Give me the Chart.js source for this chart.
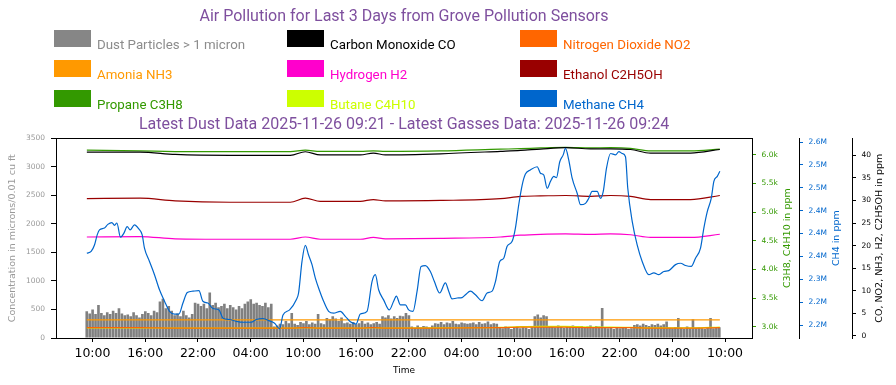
<!DOCTYPE html>
<html>
<head>
<meta charset="utf-8">
<script src="https://cdn.jsdelivr.net/npm/chart.js@4.4.1/dist/chart.umd.min.js"></script>
<style>
  body { margin: 0; background: #fff; }
  #wrap { position: relative; width: 896px; height: 385px; }
  #wrap canvas { position: absolute; left: 0; top: 0; }
  .lg-box { position: absolute; width: 37px; height: 17px; }
  .lg-text { position: absolute; font: 13.3px Roboto, sans-serif; line-height: 13px; white-space: nowrap; }
</style>
</head>
<body>
<div id="wrap">
  <canvas id="chart" width="896" height="385"></canvas>
  <div id="legend"></div>
</div>
<script>
// time is in hours since 2025-11-23 00:00
const xTickHours = [10, 16, 22, 28, 34, 40, 46, 52, 58, 64, 70, 76, 82];
const xTickLabels = ['10:00', '16:00', '22:00', '04:00', '10:00', '16:00', '22:00', '04:00', '10:00', '16:00', '22:00', '04:00', '10:00'];

const gasTicks = [3000, 3500, 4000, 4500, 5000, 5500, 6000];
const gasTickLabels = ['3.0k', '3.5k', '4.0k', '4.5k', '5.0k', '5.5k', '6.0k'];
const ch4Ticks = [2150, 2200, 2250, 2300, 2350, 2400, 2450, 2500, 2550]; // thousand ppm
const ch4TickLabels = ['2.2M', '2.2M', '2.3M', '2.4M', '2.4M', '2.4M', '2.5M', '2.5M', '2.6M'];
const ppmTicks = [0, 5, 10, 15, 20, 25, 30, 35, 40];

// dust, one reading every 20 minutes from 09:21 on the 23rd
const dustStart = 9.35;
const dustStep = 1 / 3;
const dust = [
  470, 430, 500, 420, 580, 440, 400, 450, 420, 480, 440, 520, 430, 400,
  410, 380, 450, 400, 360, 420, 470, 440, 400, 480, 450, 640, 690,
  520, 560, 480, 400, 430, 380, 480, 400, 360, 420, 620, 600,
  560, 600, 520, 800, 580, 620, 540, 560, 600, 520, 580,
  540, 500, 560, 520, 600, 640, 680, 600, 620, 580, 560, 620, 540, 600, 200, 220,
  250, 240, 300, 260, 440, 250, 230, 280, 260, 300, 240, 270, 250, 420, 260, 240,
  350, 330, 380, 340, 300, 360,
  260, 270, 250, 280, 240, 260, 300, 250, 270, 240, 260, 280, 250,
  380, 360, 400, 340, 380, 350, 390, 380, 440, 400,
  200, 180, 220, 190, 210, 200, 180, 220,
  260, 250, 280, 240, 270, 260, 300, 250, 240, 270, 260, 250,
  260, 270, 240, 280, 250, 260, 290, 240, 260, 250,
  180, 170, 200, 190, 160, 180, 200, 170, 190, 180, 160, 190,
  380, 410, 360, 400, 380,
  200, 210, 190, 220, 200, 180, 210, 200, 220, 190, 200, 210, 180, 200, 220, 190, 210, 200,
  527,
  180, 170, 190, 160, 180, 170, 190, 180, 160, 170,
  230, 240, 220, 250, 230, 210, 240, 230, 250, 220, 240, 290,
  180, 170, 190, 350, 180, 160, 200, 170, 330, 180, 190, 170, 160, 180, 350, 170, 180, 190
];

const gasTimes = [9.36, 15.43, 19.42, 25.68, 32.52, 34.23, 35.93, 40.49, 41.97, 43.34, 49.60,
  56.44, 58.72, 61.00, 63.85, 66.70, 68.97, 71.25, 73.53, 78.08, 81.41];
const co =      [40.7, 40.7, 40.2, 40.0, 40.0, 40.8, 40.1, 40.1, 40.5, 40.1, 40.35,
  40.9, 41.1, 41.4, 41.7, 41.45, 41.45, 41.3, 40.5, 40.5, 41.3];
const no2 =     [1.8, 1.8, 1.7, 1.7, 1.7, 1.8, 1.7, 1.7, 1.8, 1.7, 1.7,
  1.8, 1.9, 1.9, 1.9, 1.8, 1.8, 1.8, 1.7, 1.7, 1.8];
const nh3 =     [3.5, 3.5, 3.5, 3.5, 3.5, 3.5, 3.5, 3.5, 3.5, 3.5, 3.5,
  3.5, 3.5, 3.5, 3.5, 3.5, 3.5, 3.5, 3.5, 3.5, 3.5];
const h2 =      [21.9, 22.0, 21.5, 21.4, 21.4, 21.9, 21.4, 21.4, 21.8, 21.5, 21.6,
  21.9, 22.3, 22.5, 22.6, 22.5, 22.6, 22.4, 21.8, 21.8, 22.5];
const ethanol = [30.4, 30.5, 29.9, 29.6, 29.6, 30.5, 29.8, 29.8, 30.2, 29.9, 30.0,
  30.4, 30.9, 31.0, 31.1, 30.9, 31.1, 30.9, 30.2, 30.2, 31.1];
const propane = [6078, 6066, 6055, 6052, 6052, 6078, 6058, 6058, 6068, 6058, 6066,
  6096, 6105, 6118, 6128, 6120, 6122, 6110, 6066, 6066, 6096];
const butane =  [2980, 2980, 2975, 2975, 2975, 2985, 2975, 2975, 2982, 2975, 2980,
  2990, 3000, 3005, 3005, 2995, 2995, 2990, 2980, 2980, 2995];

const ch4Times = [
  9.36, 9.85, 10.23, 10.54, 10.80, 11.37, 11.75, 12.21, 12.51, 12.78, 13.19, 13.58, 13.95, 14.29, 14.78,
  15.28, 15.66, 15.92, 16.49, 17.06, 17.63, 18.20, 18.77, 19.34, 19.84, 20.30, 20.79, 21.44, 22.12, 22.57,
  23.14, 23.71, 24.40, 24.85, 25.60, 26.37, 27.13, 28.08, 28.64, 29.41, 30.16, 30.73, 31.30, 31.69, 32.44,
  33.20, 33.46, 33.85, 34.23, 34.60, 34.99, 35.36, 35.85, 36.31, 36.88, 37.45, 38.21, 38.78, 39.35, 40.00,
  40.49, 41.25, 41.82, 42.20, 42.57, 43.14, 43.79, 44.28, 44.59, 45.05, 45.62, 45.99, 46.49, 46.95, 47.40,
  47.89, 48.46, 48.92, 49.52, 50.17, 50.55, 50.93, 51.50, 52.07, 52.45, 53.02, 53.59, 54.35, 54.92, 55.49,
  55.87, 56.36, 56.81, 57.20, 57.77, 58.14, 58.52, 58.91, 59.28, 59.85, 60.62, 60.99, 61.37, 61.76, 62.13,
  62.51, 62.81, 63.19, 63.58, 63.84, 64.21, 64.60, 65.17, 65.55, 66.12, 66.49, 66.88, 67.45, 67.83, 68.14,
  68.51, 68.97, 69.54, 69.92, 70.30, 70.67, 70.93, 71.44, 72.00, 72.57, 73.33, 73.90, 74.46, 75.03, 75.60,
  76.37, 76.94, 77.51, 78.15, 78.64, 79.21, 79.59, 79.98, 80.43, 80.73, 81.12, 81.41
];
// methane in thousand ppm
const ch4 = [
  2307, 2311, 2325, 2347, 2358, 2362, 2370, 2374, 2368, 2373, 2342, 2351, 2365, 2358, 2369,
  2360, 2347, 2318, 2289, 2260, 2227, 2202, 2180, 2174, 2174, 2198, 2221, 2224, 2225, 2202,
  2198, 2186, 2183, 2165, 2162, 2158, 2156, 2156, 2162, 2164, 2159, 2154, 2142, 2172, 2183,
  2205, 2220, 2289, 2324, 2303, 2282, 2253, 2225, 2202, 2180, 2176, 2180, 2169, 2157, 2152,
  2174, 2180, 2245, 2260, 2227, 2205, 2183, 2202, 2213, 2194, 2194, 2183, 2180, 2224, 2278,
  2280, 2267, 2245, 2220, 2242, 2224, 2207, 2209, 2210, 2216, 2224, 2216, 2203, 2220, 2224,
  2245, 2289, 2296, 2322, 2333, 2362, 2413, 2456, 2480, 2489, 2496, 2482, 2478, 2449, 2464,
  2475, 2472, 2507, 2522, 2536, 2511, 2471, 2438, 2413, 2416, 2427, 2442, 2442, 2427, 2442,
  2493, 2525, 2522, 2529, 2525, 2518, 2449, 2376, 2325, 2289, 2260, 2264, 2260, 2267, 2269,
  2282, 2285, 2280, 2278, 2296, 2318, 2362, 2398, 2427, 2464, 2475, 2486
];

const zip = (xs, ys) => xs.map((x, i) => ({ x: x, y: ys[i] }));
const dustPoints = dust.map((v, i) => ({ x: dustStart + i * dustStep, y: v }));

const tickFont = { family: 'DejaVu Sans', size: 7.5 };
const axisTitleFont = { family: 'DejaVu Sans', size: 9.5 };

function gasLine(label, color, axis, xs, ys) {
  return {
    type: 'line', label: label, data: zip(xs, ys), yAxisID: axis,
    borderColor: color, backgroundColor: color, borderWidth: 1.2,
    pointRadius: 0, cubicInterpolationMode: 'monotone', legendColor: color
  };
}

const datasets = [
  { type: 'bar', label: 'Dust Particles > 1 micron', data: dustPoints, yAxisID: 'y',
    backgroundColor: '#808080', borderWidth: 0, barPercentage: 0.9, categoryPercentage: 1,
    order: 10, legendColor: '#868686', textColor: '#8c8c8c' },
  gasLine('Carbon Monoxide CO', '#000000', 'yPpm', gasTimes, co),
  gasLine('Nitrogen Dioxide NO2', '#ff6600', 'yPpm', gasTimes, no2),
  gasLine('Amonia NH3', '#ff9900', 'yPpm', gasTimes, nh3),
  gasLine('Hydrogen H2', '#ff00cc', 'yPpm', gasTimes, h2),
  gasLine('Ethanol C2H5OH', '#990000', 'yPpm', gasTimes, ethanol),
  gasLine('Propane C3H8', '#339900', 'yGas', gasTimes, propane),
  gasLine('Butane C4H10', '#ccff00', 'yGas', gasTimes, butane),
  Object.assign(gasLine('Methane CH4', '#0066cc', 'yCh4', ch4Times, ch4), { order: -1 })
];

function rightAxis(weight, min, max, tickValues, labels, color, width) {
  return {
    type: 'linear', position: 'right', weight: weight, min: min, max: max,
    afterBuildTicks: (s) => { s.ticks = tickValues.map(v => ({ value: v })); },
    afterFit: (s) => { s.width = width; },
    grid: { drawOnChartArea: false, tickLength: 4, color: color },
    border: { color: '#000', width: 1 },
    ticks: { color: color, font: tickFont, padding: 5.5,
      callback: (v, i) => labels ? labels[i] : String(v) }
  };
}

// rotated titles for the right-hand axes, read bottom to top
const rightTitles = [
  { id: 'yGas', text: 'C3H8, C4H10 in ppm', color: '#339900', dx: 36 },
  { id: 'yCh4', text: 'CH4 in ppm', color: '#0066cc', dx: 37.5 },
  { id: 'yPpm', text: 'CO, NO2, NH3, H2, C2H5OH in ppm', color: '#000', dx: 27.5 }
];

const axisTitlePlugin = {
  id: 'axisTitles',
  afterDraw(chart) {
    const ctx = chart.ctx;
    const mid = (chart.chartArea.top + chart.chartArea.bottom) / 2;
    ctx.save();
    ctx.font = axisTitleFont.size + 'px "' + axisTitleFont.family + '"';
    ctx.textAlign = 'center';
    ctx.textBaseline = 'middle';
    rightTitles.forEach(t => {
      const s = chart.scales[t.id];
      ctx.save();
      ctx.translate(s.left + t.dx, mid);
      ctx.rotate(-Math.PI / 2);
      ctx.fillStyle = t.color;
      ctx.fillText(t.text, 0, 0);
      ctx.restore();
    });
    ctx.restore();
  }
};

const framePlugin = {
  id: 'frame',
  afterDatasetsDraw(chart) {
    const a = chart.chartArea;
    const ctx = chart.ctx;
    ctx.save();
    ctx.strokeStyle = '#000';
    ctx.lineWidth = 1;
    const l = Math.round(a.left) + 0.5, t = Math.round(a.top) + 0.5;
    ctx.strokeRect(l, t, Math.round(a.right) - Math.round(a.left), Math.round(a.bottom) - Math.round(a.top));
    ctx.restore();
  }
};

const titleColor = '#7e4f9e';

const chart = new Chart(document.getElementById('chart'), {
  type: 'line',
  data: { datasets: datasets },
  options: {
    responsive: false,
    animation: false,
    layout: { padding: 0 },
    plugins: {
      legend: { display: false },
      tooltip: { enabled: false },
      title: {
        display: true, fullSize: false, color: titleColor,
        text: 'Air Pollution for Last 3 Days from Grove Pollution Sensors',
        font: { family: 'Roboto', size: 16, weight: 'normal' },
        padding: { top: 7, bottom: 89 }
      },
      subtitle: {
        display: true, fullSize: false, color: titleColor,
        text: 'Latest Dust Data 2025-11-26 09:21 - Latest Gasses Data: 2025-11-26 09:24',
        font: { family: 'Roboto', size: 16, weight: 'normal' },
        padding: { top: 0, bottom: 4 }
      }
    },
    scales: {
      x: {
        type: 'linear', min: 5.85, max: 85.07, offset: false,
        afterBuildTicks: (s) => { s.ticks = xTickHours.map(v => ({ value: v })); },
        afterFit: (s) => { s.height = 47; },
        grid: { drawOnChartArea: false, tickLength: 4, color: '#000', offset: false },
        border: { color: '#000' },
        ticks: { color: '#000', font: { family: 'DejaVu Sans', size: 12.5 }, padding: 4,
          maxRotation: 0, autoSkip: false, callback: (v, i) => xTickLabels[i] },
        title: { display: true, text: 'Time', color: '#000',
          font: { family: 'DejaVu Sans', size: 9 }, padding: { top: 0, bottom: 9 } }
      },
      y: {
        type: 'linear', position: 'left', min: 0, max: 3500,
        afterFit: (s) => { s.width = 56; },
        grid: { drawOnChartArea: false, tickLength: 5, color: '#000' },
        border: { color: '#000' },
        ticks: { stepSize: 500, color: '#999', font: tickFont, padding: 6,
          callback: (v) => String(v) },
        title: { display: true, text: 'Concentration in microns/0.01 cu ft', color: '#999',
          font: axisTitleFont, padding: { top: 7, bottom: 0 } }
      },
      yGas: rightAxis(1, 2803, 6284, gasTicks, gasTickLabels, '#339900', 47),
      yCh4: rightAxis(2, 2121.6, 2558, ch4Ticks, ch4TickLabels, '#0066cc', 53),
      yPpm: rightAxis(3, -0.5, 43.76, ppmTicks, null, '#000', 44)
    }
  },
  plugins: [framePlugin, axisTitlePlugin]
});

// legend laid out as a 3 x 3 grid
const legendCols = [54, 287, 520];
const legendRows = [30, 60, 90];
const legendEl = document.getElementById('legend');
chart.data.datasets.forEach((ds, i) => {
  const left = legendCols[i % 3];
  const top = legendRows[Math.floor(i / 3)];
  const box = document.createElement('div');
  box.className = 'lg-box';
  box.style.left = left + 'px';
  box.style.top = top + 'px';
  box.style.background = ds.legendColor;
  const txt = document.createElement('div');
  txt.className = 'lg-text';
  txt.style.left = (left + 43) + 'px';
  txt.style.top = (top + 8) + 'px';
  txt.style.color = ds.textColor || ds.legendColor;
  txt.textContent = ds.label;
  legendEl.appendChild(box);
  legendEl.appendChild(txt);
});
</script>
</body>
</html>
